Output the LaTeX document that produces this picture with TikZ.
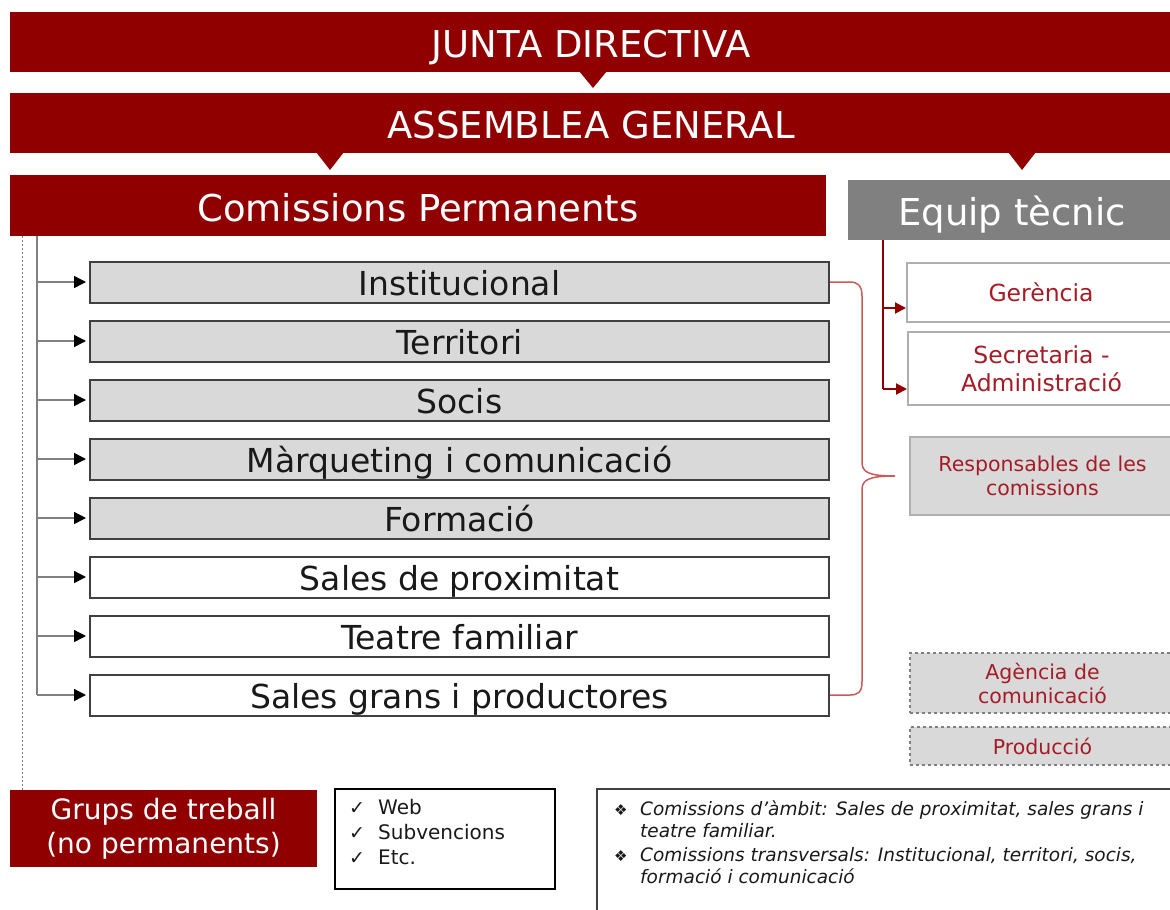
\documentclass[tikz,border=0pt]{standalone}
\usepackage{fontspec}
\setmainfont{DejaVu Sans}
\usetikzlibrary{arrows.meta}
\definecolor{dred}{RGB}{145,0,0}
\definecolor{eqgray}{RGB}{128,128,128}
\definecolor{boxgray}{RGB}{217,217,217}
\definecolor{boxline}{RGB}{64,64,64}
\definecolor{lightline}{RGB}{175,175,175}
\definecolor{rtext}{RGB}{165,28,38}
\definecolor{bracecol}{RGB}{200,90,90}
\definecolor{txt}{RGB}{25,25,25}
\begin{document}
\begin{tikzpicture}[x=1pt,y=-1pt,
  banner/.style={fill=dred, text=white, inner sep=0pt, text height=31pt, text depth=0pt, font=\fontsize{37}{40}\selectfont},
  cbox/.style={draw=boxline, line width=2pt, minimum width=739pt, minimum height=41pt, inner sep=0pt,
     text height=27pt, text depth=0pt, font=\fontsize{33}{36}\selectfont, text=txt},
  gbox/.style={cbox, fill=boxgray},
  wbox/.style={cbox, fill=white},
  rbox/.style={draw=lightline, line width=2pt, fill=white, inner sep=0pt, text=rtext, align=center, font=\fontsize{23.5}{28}\selectfont},
  rgbox/.style={draw=lightline, line width=1.5pt, fill=boxgray, inner sep=0pt, text=rtext, align=center, font=\fontsize{20.5}{24}\selectfont},
  dbox/.style={draw=eqgray, dashed, line width=1.2pt, fill=boxgray, inner sep=0pt, text=rtext, align=center, font=\fontsize{20.5}{24}\selectfont},
  conn/.style={draw=eqgray, line width=1.4pt},
  arr/.style={draw=eqgray, line width=1.4pt, -{Triangle[length=12pt,width=12pt,color=black]}, shorten >=3pt},
  rconn/.style={draw=dred, line width=2pt},
  rarr/.style={draw=dred, line width=2pt, -{Triangle[length=11pt,width=11pt]}},
  dotline/.style={draw=eqgray, line width=1pt, dash pattern=on 2pt off 2pt},
]
\useasboundingbox (0,0) rectangle (1170,910);
\clip (0,0) rectangle (1170,910);

% top banners
\node[banner, minimum width=1162pt, minimum height=60pt] (junta) at (591,42) {JUNTA DIRECTIVA};
\fill[dred] (579,71) -- (607,71) -- (593,88) -- cycle;
\node[banner, minimum width=1162pt, minimum height=60pt] (assem) at (591,123) {ASSEMBLEA GENERAL};
\fill[dred] (316,152) -- (344,152) -- (330,170) -- cycle;
\fill[dred] (1008,152) -- (1036,152) -- (1022,170) -- cycle;
\node[banner, minimum width=816pt, minimum height=61pt] (comp) at (418,205.5) {Comissions Permanents};
\node[banner, fill=eqgray, minimum width=328pt, minimum height=60pt] (equip) at (1012,210) {Equip tècnic};

% commissions
\node[gbox] (inst) at (459.5,282) {Institucional};
\node[gbox] (terr) at (459.5,341) {Territori};
\node[gbox] (socis) at (459.5,400) {Socis};
\node[gbox] (marq) at (459.5,459) {Màrqueting i comunicació};
\node[gbox] (form) at (459.5,518) {Formació};
\node[wbox] (prox) at (459.5,577) {Sales de proximitat};
\node[wbox] (teatre) at (459.5,636) {Teatre familiar};
\node[wbox] (sgp) at (459.5,695) {Sales grans i productores};

% left trunk
\coordinate (trunktop) at (37,236);
\draw[conn] (trunktop) -- (trunktop |- sgp.west);
\foreach \n in {inst,terr,socis,marq,form,prox,teatre,sgp}
  \draw[arr] (trunktop |- \n.west) -- (\n.west);

% bottom left
\node[fill=dred, text=white, minimum width=307pt, minimum height=77pt, inner sep=0pt, align=center,
      font=\fontsize{28}{34}\selectfont] (grups) at (163.5,828.5) {Grups de treball\\(no permanents)};
\coordinate (dtop) at (22,236);
\draw[dotline] (dtop) -- (dtop |- grups.north);

\node[draw=black, line width=1.5pt, minimum width=220pt, minimum height=100pt, inner sep=0pt] (checks) at (445,839) {};
\node[anchor=north west, inner sep=0pt, align=left, text=txt, font=\fontsize{20}{25}\selectfont] (checktxt) at (349,799)
  {\makebox[29pt][l]{\fontsize{19}{25}\selectfont ✓}Web\\\makebox[29pt][l]{\fontsize{19}{25}\selectfont ✓}Subvencions\\\makebox[29pt][l]{\fontsize{19}{25}\selectfont ✓}Etc.};

\node[draw=boxline, line width=2.5pt, minimum width=583pt, minimum height=131pt, inner sep=0pt] (notes) at (888.5,854.5) {};
\node[anchor=north west, inner sep=0pt, align=left, text=txt, font=\fontsize{18.5}{22}\selectfont] (notetxt) at (614,800)
  {\makebox[26pt][l]{\fontsize{15}{22}\selectfont ❖}\textit{Comissions d’àmbit: Sales de proximitat, sales grans i}\\
   \hspace*{26pt}\textit{teatre familiar.}\\[2pt]
   \makebox[26pt][l]{\fontsize{15}{22}\selectfont ❖}\textit{Comissions transversals: Institucional, territori, socis,}\\
   \hspace*{26pt}\textit{formació i comunicació}};

% right side
\node[rbox, minimum width=268pt, minimum height=59pt] (ger) at (1041,292.5) {Gerència};
\node[rbox, minimum width=267pt, minimum height=73pt] (sec) at (1041.5,368.5) {Secretaria -\\Administració};
\node[rgbox, minimum width=265pt, minimum height=78pt] (resp) at (1042.5,476) {Responsables de les\\comissions};
\node[dbox, minimum width=265pt, minimum height=60pt] (agen) at (1042.5,683) {Agència de\\comunicació};
\node[dbox, minimum width=265pt, minimum height=38pt] (prod) at (1042.5,746) {Producció};

\coordinate (eq) at (883,240);
\coordinate (g1) at (883,308);
\coordinate (s1) at (883,389);
\draw[rconn] (eq) -- (s1);
\draw[rarr] (g1) -- (g1 -| ger.west);
\draw[rarr] (s1) -- (s1 -| sec.west);

% brace
\coordinate (btip) at (895,476);
\draw[draw=bracecol, line width=1.5pt] (inst.east) -- (850,282) .. controls (858,282) and (862,286) .. (862,296)
  -- (862,462) .. controls (862,472) and (868,476) .. (btip)
  .. controls (868,476) and (862,480) .. (862,490)
  -- (862,682) .. controls (862,692) and (858,695) .. (850,695) -- (sgp.east);
\end{tikzpicture}
\end{document}
